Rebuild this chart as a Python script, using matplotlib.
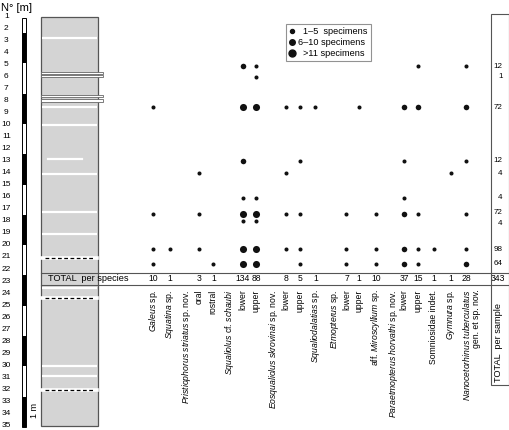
import matplotlib
matplotlib.use('Agg')
import matplotlib.pyplot as plt
from matplotlib.patches import Rectangle
from matplotlib.lines import Line2D

plt.rcParams['font.family'] = ['Liberation Sans', 'DejaVu Sans']
plt.rcParams['mathtext.fontset'] = 'custom'
plt.rcParams['mathtext.rm'] = 'Liberation Sans'
plt.rcParams['mathtext.it'] = 'Liberation Sans:italic'

# ---------------- data ----------------
row_numbers = list(range(1, 36))

column_labels = [
    r"$\mathit{Galeus}$ sp.", r"$\mathit{Squatina}$ sp.", "oral", "rostral",
    "lower", "upper", "lower", "upper", r"$\mathit{Squaliodalatias}$ sp.",
    "lower", "upper", r"aff. $\mathit{Miroscyllium}$ sp.", "lower", "upper",
    "Somniosidae indet.", r"$\mathit{Gymnura}$ sp.",
    r"$\mathit{Nanocetorhinus\ tuberculatus}$",
]
group_labels = [
    r"$\mathit{Pristiophorus\ striatus}$ sp. nov.",
    r"$\mathit{Squaliolus}$ cf. $\mathit{schaubi}$",
    r"$\mathit{Eosqualiolus\ skrovinai}$ sp. nov.",
    r"$\mathit{Etmopterus}$ sp.",
    r"$\mathit{Paraetmopterus\ horvathi}$ sp. nov.",
    "gen. et sp. nov.",
]
species_totals = [10, 1, 3, 1, 134, 88, 8, 5, 1, 7, 1, 10, 37, 15, 1, 1, 28]
grand_total = 343

sample_rows = [5.15, 6.06, 8.58, 13.03, 14.03, 16.10, 17.46, 18.01, 20.36, 21.56]
sample_totals = [12, 1, 72, 12, 4, 4, 72, 4, 98, 64]

# abundance class per sample (rows) and column: 0 none, 1: 1-5, 2: 6-10, 3: >11
abundance = [
    [0, 0, 0, 0, 2, 1, 0, 0, 0, 0, 0, 0, 0, 1, 0, 0, 1],
    [0, 0, 0, 0, 0, 1, 0, 0, 0, 0, 0, 0, 0, 0, 0, 0, 0],
    [1, 0, 0, 0, 3, 3, 1, 1, 1, 0, 1, 0, 2, 2, 0, 0, 2],
    [0, 0, 0, 0, 2, 0, 0, 1, 0, 0, 0, 0, 1, 0, 0, 0, 1],
    [0, 0, 1, 0, 0, 0, 1, 0, 0, 0, 0, 0, 0, 0, 0, 1, 0],
    [0, 0, 0, 0, 1, 1, 0, 0, 0, 0, 0, 0, 1, 0, 0, 0, 0],
    [1, 0, 1, 0, 3, 3, 1, 1, 0, 1, 0, 1, 2, 1, 0, 0, 1],
    [0, 0, 0, 0, 1, 1, 0, 0, 0, 0, 0, 0, 0, 0, 0, 0, 0],
    [1, 1, 1, 0, 3, 3, 1, 1, 0, 1, 0, 1, 2, 1, 1, 0, 1],
    [1, 0, 0, 1, 3, 3, 0, 1, 0, 1, 0, 1, 2, 1, 0, 0, 2],
]
legend_labels = ["  1\u20135  specimens", "6\u201310 specimens", "  >11 specimens"]

# lithology column features (row units)
white_lines = [2.85, 8.55, 10.05, 14.14, 17.24, 19.12, 23.6, 30.02, 30.85]
short_white_lines = [12.87]
outlined_beds = [(5.66, 5.84), (5.9, 6.06), (7.56, 7.75), (7.91, 8.16)]
dashed_lines = [21.06, 24.38, 32.04]

# ---------------- layout (pixel-like x, row units y) ----------------
col_x = [153.3, 170, 199.3, 213.3, 243, 256, 286.3, 299.7, 315.5, 346.5,
         358.7, 376, 404.3, 418, 434, 450.7, 466.5]
label_x = list(col_x)
label_x[16] = 467
group_x = [186.7, 229.3, 273.3, 334.5, 393.3, 477]
# small vertical nudges of per-sample total labels (avoid touching)
total_nudge = [0, 0, 0, 0, 0, 0, -0.17, 0.17, 0, 0]

size_map = {1: 8.5, 2: 16, 3: 26}

fig = plt.figure(figsize=(5.1, 4.3), dpi=100)
ax = fig.add_axes([0, 0, 1, 1])
ax.set_xlim(0, 510)
px2row = lambda y: 1 + (y - 16) / 12.05
ax.set_ylim(px2row(430), px2row(0))
ax.axis('off')

txt = 6.0

# header & row numbers
ax.text(1.5, px2row(8), "N\u00b0 [m]", fontsize=8, ha='left', va='center')
for r in row_numbers:
    ax.text(6.3, r, str(r), fontsize=txt, ha='center', va='center')

# scale bar
bar_top, bar_bot = px2row(18.3), px2row(427)
seg0 = px2row(33)
seg = 30.3 / 12.05
ax.add_patch(Rectangle((21.8, bar_top), 4.4, bar_bot - bar_top, facecolor='white',
                       edgecolor='black', lw=0.7, zorder=2))
k = 0
start = seg0
while start < bar_bot - 0.01:
    if k % 2 == 0:
        ax.add_patch(Rectangle((21.8, start), 4.4, min(seg, bar_bot - start),
                               facecolor='black', edgecolor='none', zorder=3))
    start += seg
    k += 1
ax.text(35, px2row(410), "1 m", fontsize=6.5, rotation=90, ha='center', va='center')

# lithology column
col_left, col_right = 41, 97.7
col_top, col_bot = px2row(17.3), px2row(425.7)
ax.add_patch(Rectangle((col_left, col_top), col_right - col_left, col_bot - col_top,
                       facecolor='#d4d4d4', edgecolor='#555555', lw=0.9, zorder=2))
for y in white_lines:
    ax.plot([col_left + 0.6, col_right - 0.6], [y, y], color='white', lw=1.6,
            zorder=3, solid_capstyle='butt')
for y in short_white_lines:
    ax.plot([48, 82], [y, y], color='white', lw=1.6, zorder=3)
for y0, y1 in outlined_beds:
    ax.add_patch(Rectangle((col_left, y0), 103 - col_left, y1 - y0, facecolor='white',
                           edgecolor='#666666', lw=0.6, zorder=4))
for y in dashed_lines:
    ax.plot([col_left + 0.6, col_right - 0.6], [y, y], color='white', lw=2.6, zorder=3)
    ax.plot([col_left + 4, col_right - 3], [y, y], color='black', lw=0.9,
            dashes=(3, 2), zorder=4)

# total per species row
tot_top, tot_bot = px2row(272.5), px2row(284.5)
tot_mid = px2row(279)
for y in (tot_top, tot_bot):
    ax.plot([col_left, 509], [y, y], color='#555555', lw=0.8, zorder=5)
ax.text(48, tot_mid, "TOTAL  per species", fontsize=6.6, ha='left', va='center', zorder=6)
for x, t in zip(col_x, species_totals):
    ax.text(x, tot_mid, str(t), fontsize=6.2, ha='center', va='center')
ax.text(497.5, tot_mid, str(grand_total), fontsize=6.2, ha='center', va='center')

# right box: total per sample
rb_top, rb_bot = px2row(14), px2row(385)
ax.add_patch(Rectangle((491, rb_top), 18, rb_bot - rb_top, facecolor='none',
                       edgecolor='#555555', lw=0.8, zorder=5))
for y, t, dy in zip(sample_rows, sample_totals, total_nudge):
    ax.text(502.5, y + dy, str(t), fontsize=5.8, ha='right', va='center')
ax.text(498.5, px2row(382), "TOTAL  per sample", fontsize=6.6, rotation=90,
        ha='center', va='bottom')

# dots
for yr, row in zip(sample_rows, abundance):
    for x, a in zip(col_x, row):
        if a:
            ax.scatter([x], [yr], s=size_map[a], color='#111111', lw=0, zorder=6)

# column labels
lab_top = px2row(289.5)
for x, lab in zip(label_x, column_labels):
    ax.text(x, lab_top, lab, fontsize=6.2, rotation=90, ha='center', va='top')
for x, lab in zip(group_x, group_labels):
    ax.text(x, lab_top, lab, fontsize=6.2, rotation=90, ha='center', va='top')

# legend
handles = [Line2D([], [], ls='none', marker='o', color='#111111', markersize=m)
           for m in (2.9, 4.0, 5.0)]
leg = fig.legend(handles, legend_labels, loc='upper left',
                 bbox_to_anchor=(285.7 / 510, 1 - 24 / 430), fontsize=6.6,
                 frameon=True, fancybox=False, handlelength=0.6, handletextpad=0.4,
                 labelspacing=0.2, borderpad=0.35, borderaxespad=0)
leg.get_frame().set_edgecolor('#777777')
leg.get_frame().set_linewidth(0.8)

fig.savefig('out.png', dpi=100)
